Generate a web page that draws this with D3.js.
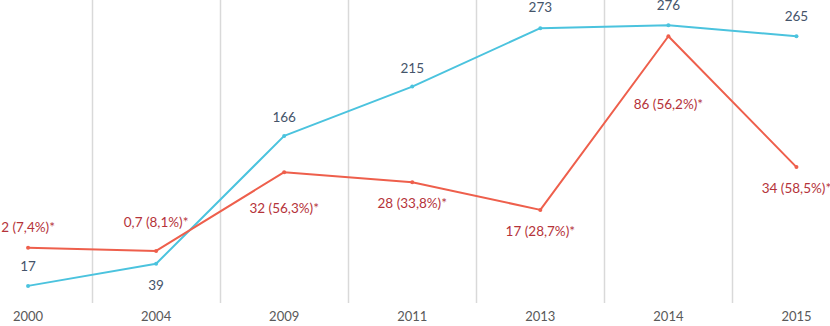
<!DOCTYPE html>
<html>
<head>
<meta charset="utf-8">
<script src="https://cdn.jsdelivr.net/npm/d3@7"></script>
<style>
  body { margin: 0; background: #fff; }
  svg { display: block; font-family: Lato, "Open Sans", sans-serif; }
</style>
</head>
<body>
<div id="chart"></div>
<script>
// data
const years = ["2000", "2004", "2009", "2011", "2013", "2014", "2015"];
const totalValues = [17, 39, 166, 215, 273, 276, 265];
const shareValues = [2, 0.7, 32, 28, 17, 86, 34];
const shareLabels = ["2 (7,4%)*", "0,7 (8,1%)*", "32 (56,3%)*", "28 (33,8%)*", "17 (28,7%)*", "86 (56,2%)*", "34 (58,5%)*"];

// label placement (style only)
const totalLabelDy = [-15, 26, -14, -14, -16, -15, -15];
const shareLabelDy = [-16, -24, 41, 26, 26, 73, 26];

const width = 830, height = 326;

const svg = d3.select("#chart")
    .append("svg")
    .attr("width", width)
    .attr("height", height);

const x = d3.scaleBand()
    .domain(years)
    .range([-36, 860.5]);

const xc = d => x(d) + x.bandwidth() / 2;

// two y scales (primary for totals, secondary for share)
const y1 = d3.scaleLinear().domain([0, 300]).range([303, 1]);
const y2 = d3.scaleLinear().domain([-20, 100]).range([303, 1]);

// vertical separators between categories
svg.append("g")
    .selectAll("line")
    .data(years.slice(1))
    .join("line")
    .attr("x1", d => Math.round(x(d)) + 0.5)
    .attr("x2", d => Math.round(x(d)) + 0.5)
    .attr("y1", 0)
    .attr("y2", 303)
    .attr("stroke", "#d9d9d9")
    .attr("stroke-width", 1.5);

// x axis labels
const xAxis = d3.axisBottom(x).tickSize(0).tickPadding(0);
svg.append("g")
    .attr("transform", "translate(0,312)")
    .call(xAxis)
    .call(g => g.select(".domain").remove())
    .selectAll("text")
    .attr("dy", "0.71em")
    .attr("fill", "#595959")
    .style("font-size", "13px")
    .style("font-family", "Lato, sans-serif");

function drawSeries(values, yScale, color) {
    const pts = values.map((v, i) => [xc(years[i]), yScale(v)]);
    svg.append("path")
        .attr("d", d3.line()(pts))
        .attr("fill", "none")
        .attr("stroke", color)
        .attr("stroke-width", 2)
        .attr("stroke-linejoin", "round");
    svg.append("g")
        .selectAll("circle")
        .data(pts)
        .join("circle")
        .attr("cx", d => d[0])
        .attr("cy", d => d[1])
        .attr("r", 2)
        .attr("fill", color);
    return pts;
}

const bluePts = drawSeries(totalValues, y1, "#4bc3de");
const redPts = drawSeries(shareValues, y2, "#ee5f4c");

// data labels
svg.append("g")
    .selectAll("text")
    .data(totalValues)
    .join("text")
    .attr("x", (d, i) => bluePts[i][0])
    .attr("y", (d, i) => bluePts[i][1] + totalLabelDy[i])
    .attr("text-anchor", "middle")
    .attr("fill", "#44546a")
    .style("font-size", "13.5px")
    .text(d => d);

svg.append("g")
    .selectAll("text")
    .data(shareLabels)
    .join("text")
    .attr("x", (d, i) => redPts[i][0])
    .attr("y", (d, i) => redPts[i][1] + shareLabelDy[i])
    .attr("text-anchor", "middle")
    .attr("fill", "#b5333a")
    .style("font-size", "13.5px")
    .text(d => d);
</script>
</body>
</html>
